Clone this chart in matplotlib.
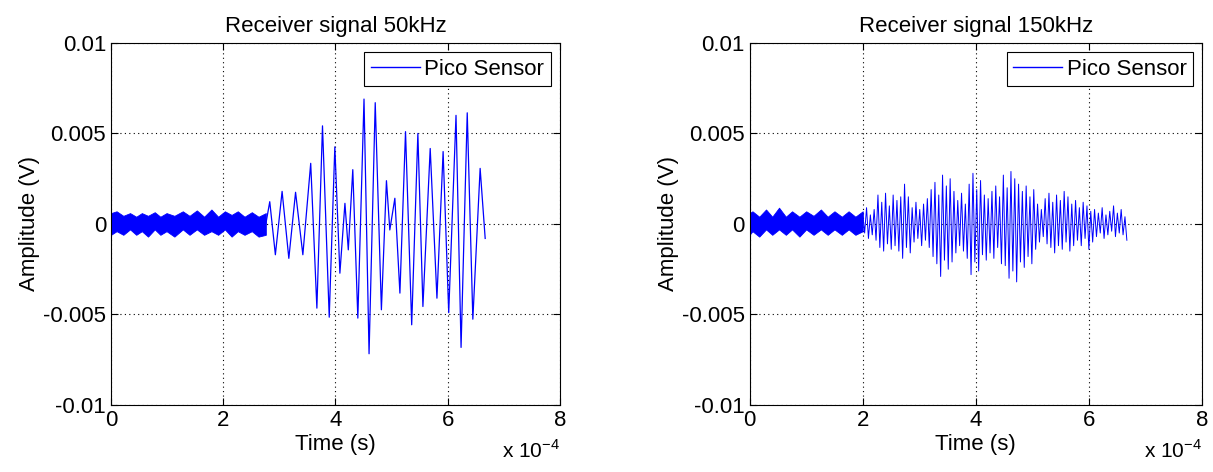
import numpy as np
import matplotlib
matplotlib.use('Agg')
import matplotlib.pyplot as plt
from matplotlib.ticker import FuncFormatter

plt.rcParams['font.family'] = ['Liberation Sans', 'DejaVu Sans']
plt.rcParams['mathtext.fontset'] = 'custom'
plt.rcParams['mathtext.rm'] = 'Liberation Sans'

# ---- 50 kHz receiver signal ----
# pre-trigger noise band (time in 1e-4 s, upper / lower edge in V)
noise50_t = [0.0, 0.10, 0.22, 0.34, 0.45, 0.55, 0.66, 0.78, 0.88, 0.99, 1.13, 1.28,
             1.40, 1.53, 1.66, 1.79, 1.91, 2.03, 2.15, 2.26, 2.38, 2.51, 2.63, 2.76]
noise50_hi = [0.0006, 0.0007, 0.00045, 0.0006, 0.0004, 0.0006, 0.00045, 0.00065, 0.0004,
              0.0006, 0.00045, 0.0007, 0.00045, 0.00075, 0.0004, 0.0008, 0.0004, 0.0007,
              0.0005, 0.0007, 0.0004, 0.00065, 0.0004, 0.0006]
noise50_lo = [-0.0006, -0.0004, -0.0006, -0.0003, -0.0006, -0.0004, -0.0007, -0.0003,
              -0.0006, -0.0004, -0.0007, -0.0003, -0.0006, -0.0003, -0.0006, -0.0004,
              -0.0006, -0.0003, -0.0007, -0.0004, -0.0006, -0.0004, -0.0007, -0.0006]
# burst extrema
burst50_t = [2.76, 2.83, 2.93, 3.05, 3.17, 3.29, 3.42, 3.56, 3.67, 3.77, 3.89, 3.99, 4.08,
             4.17, 4.23, 4.31, 4.40, 4.51, 4.60, 4.71, 4.82, 4.91, 4.97, 5.06, 5.15, 5.25,
             5.36, 5.47, 5.56, 5.69, 5.81, 5.92, 6.02, 6.15, 6.24, 6.35, 6.45, 6.58, 6.67]
burst50_v = [0.0, 0.00123, -0.0017, 0.0018, -0.0019, 0.00175, -0.0017, 0.00335, -0.00465,
             0.00542, -0.00515, 0.00426, -0.00272, 0.00114, -0.00143, 0.0030, -0.0052,
             0.0069, -0.00717, 0.0067, -0.00474, 0.00239, -0.00033, 0.00142, -0.00382,
             0.0051, -0.00557, 0.0050, -0.00456, 0.00417, -0.0041, 0.0040, -0.0049,
             0.0060, -0.00682, 0.00614, -0.00526, 0.00307, -0.0008]

# ---- 150 kHz receiver signal ----
noise150_t = [0.0, 0.05, 0.17, 0.29, 0.40, 0.52, 0.64, 0.75, 0.88, 1.00, 1.13, 1.26,
              1.38, 1.50, 1.63, 1.75, 1.87, 2.0]
noise150_hi = [0.0006, 0.0007, 0.0004, 0.0008, 0.0004, 0.0009, 0.0004, 0.0007, 0.0004,
               0.0007, 0.00045, 0.0008, 0.0004, 0.0007, 0.0004, 0.0007, 0.0004, 0.0007]
noise150_lo = [-0.0006, -0.0004, -0.0007, -0.0003, -0.0006, -0.0003, -0.0006, -0.0003,
               -0.0007, -0.0003, -0.0006, -0.0003, -0.0006, -0.0003, -0.0006, -0.0003,
               -0.0006, -0.0004]
burst150_start, burst150_end = 2.0, 6.67
peaks150 = [0.0006, 0.0009, 0.0005, 0.0008,
            0.0016, 0.0012, 0.0017, 0.0010, 0.0016, 0.0013, 0.0015, 0.0022,
            0.0015, 0.0009, 0.0012, 0.0008, 0.0011, 0.0014,
            0.0019, 0.0023, 0.0016, 0.0027, 0.0021, 0.0025, 0.0018,
            0.0013, 0.0017, 0.0011,
            0.0022, 0.0028, 0.0019, 0.0024, 0.0016,
            0.0014, 0.0018, 0.0021, 0.0015,
            0.0027, 0.0020, 0.0029, 0.0025, 0.0022, 0.0018,
            0.0021, 0.0015, 0.0019, 0.0011, 0.0008,
            0.0014, 0.0017, 0.0012, 0.0016, 0.0013, 0.0018, 0.0015, 0.0011,
            0.0013, 0.0009, 0.0012, 0.0010, 0.0007,
            0.0008, 0.0006, 0.0009, 0.0005, 0.0007, 0.0010, 0.0006, 0.0008, 0.0004]
troughs150 = [-0.0005, -0.0008, -0.0006, -0.0009,
              -0.0013, -0.0015, -0.0011, -0.0014, -0.0012, -0.0015, -0.0019, -0.0013,
              -0.0016, -0.0010, -0.0008, -0.0012, -0.0009, -0.0013,
              -0.0018, -0.0022, -0.0029, -0.0020, -0.0025, -0.0021, -0.0016,
              -0.0012, -0.0015, -0.0019,
              -0.0028, -0.0021, -0.0026, -0.0017, -0.0020,
              -0.0016, -0.0019, -0.0013, -0.0022,
              -0.0023, -0.0030, -0.0026, -0.0032, -0.0021, -0.0024,
              -0.0018, -0.0022, -0.0014, -0.0010, -0.0007,
              -0.0011, -0.0013, -0.0016, -0.0012, -0.0014, -0.0010, -0.0015, -0.0012,
              -0.0009, -0.0012, -0.0008, -0.0014, -0.0010,
              -0.0007, -0.0005, -0.0008, -0.0006, -0.0004, -0.0007, -0.0005, -0.0006, -0.0009]

y_ticks = [-0.01, -0.005, 0, 0.005, 0.01]
y_labels = ['-0.01', '-0.005', '0', '0.005', '0.01']
x_ticks = [0, 2e-4, 4e-4, 6e-4, 8e-4]

FS = 16
BLUE = '#0000ff'

fig = plt.figure(figsize=(12.13, 4.72), dpi=100)
ax1 = fig.add_axes([0.0915, 0.142, 0.370, 0.767])
ax2 = fig.add_axes([0.618, 0.142, 0.373, 0.767])


def style_axes(ax, title):
    ax.set_xlim(0, 8e-4)
    ax.set_ylim(-0.01, 0.01)
    ax.set_xticks(x_ticks)
    ax.xaxis.set_major_formatter(FuncFormatter(lambda v, p: '%g' % round(v / 1e-4, 6)))
    ax.set_yticks(y_ticks)
    ax.set_yticklabels(y_labels)
    ax.tick_params(direction='in', top=True, right=True, labelsize=FS, length=5, width=0.8)
    ax.grid(True, color='black', linestyle=(0, (1, 3)), linewidth=0.8)
    ax.set_axisbelow(True)
    for s in ax.spines.values():
        s.set_linewidth(0.8)
    ax.set_title(title, fontsize=FS, pad=8)
    ax.set_xlabel('Time (s)', fontsize=FS, labelpad=2)
    ax.set_ylabel('Amplitude (V)', fontsize=FS, labelpad=2)
    ax.text(1.0, -0.095, r'x $10^{-4}$', transform=ax.transAxes, ha='right', va='top',
            fontsize=15)
    leg = ax.legend(loc='upper right', fontsize=FS, fancybox=False, framealpha=1,
                    edgecolor='black', handlelength=2.2, borderpad=0.3,
                    handletextpad=0.2, borderaxespad=0.4)
    leg.get_frame().set_linewidth(0.8)
    for h in leg.get_lines():
        h.set_linewidth(1.0)


# left panel
t = np.array(noise50_t) * 1e-4
ax1.fill_between(t, noise50_lo, noise50_hi, color=BLUE, lw=0.6, edgecolor=BLUE)
ax1.plot(np.array(burst50_t) * 1e-4, burst50_v, color=BLUE, lw=0.9, label='Pico Sensor')
style_axes(ax1, 'Receiver signal 50kHz')

# right panel
t = np.array(noise150_t) * 1e-4
ax2.fill_between(t, noise150_lo, noise150_hi, color=BLUE, lw=0.6, edgecolor=BLUE)
ext = np.empty(2 * len(peaks150))
ext[0::2] = peaks150
ext[1::2] = troughs150
t_ext = np.linspace(burst150_start, burst150_end, len(ext)) * 1e-4
ax2.plot(t_ext, ext, color=BLUE, lw=0.7, label='Pico Sensor')
style_axes(ax2, 'Receiver signal 150kHz')

fig.savefig('out.png', dpi=100)
